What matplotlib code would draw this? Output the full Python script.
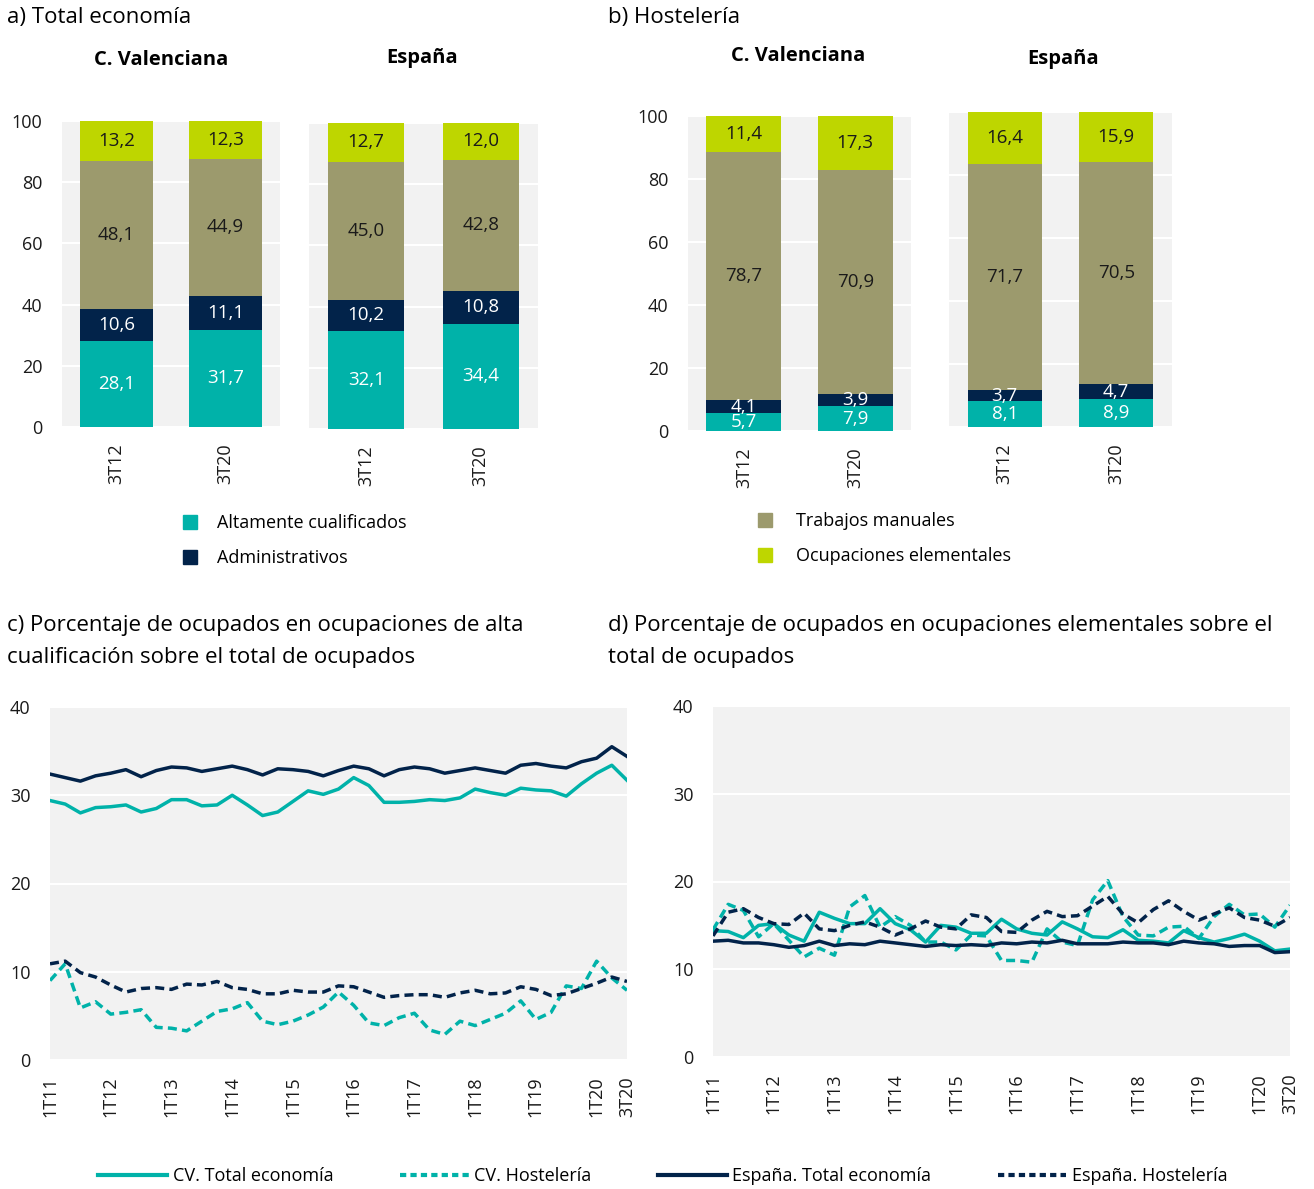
import matplotlib
matplotlib.use("Agg")
import matplotlib.pyplot as plt
from matplotlib.patches import Patch
from matplotlib.lines import Line2D
import numpy as np

plt.rcParams['font.family'] = ['Open Sans', 'DejaVu Sans']

W, H = 1314, 1189

TEAL = '#00B2A9'
NAVY = '#02234A'
OLIVE = '#9C9A6D'
LIME = '#BED600'
BG = '#F2F2F2'

# --- bar data (stacked, bottom to top) ---
categories = ['Altamente cualificados', 'Administrativos', 'Trabajos manuales', 'Ocupaciones elementales']
bar_periods = ['3T12', '3T20']

a_cv = {'Altamente cualificados': [28.1, 31.7], 'Administrativos': [10.6, 11.1],
        'Trabajos manuales': [48.1, 44.9], 'Ocupaciones elementales': [13.2, 12.3]}
a_es = {'Altamente cualificados': [32.1, 34.4], 'Administrativos': [10.2, 10.8],
        'Trabajos manuales': [45.0, 42.8], 'Ocupaciones elementales': [12.7, 12.0]}
b_cv = {'Altamente cualificados': [5.7, 7.9], 'Administrativos': [4.1, 3.9],
        'Trabajos manuales': [78.7, 70.9], 'Ocupaciones elementales': [11.4, 17.3]}
b_es = {'Altamente cualificados': [8.1, 8.9], 'Administrativos': [3.7, 4.7],
        'Trabajos manuales': [71.7, 70.5], 'Ocupaciones elementales': [16.4, 15.9]}

# --- line data, 1T11 .. 3T20 ---
n_q = 39
tick_pos = [0, 4, 8, 12, 16, 20, 24, 28, 32, 36, 38]
tick_labels = ['1T11', '1T12', '1T13', '1T14', '1T15', '1T16', '1T17', '1T18', '1T19', '1T20', '3T20']

c_cv_total = [29.4, 29.0, 28.0, 28.6, 28.7, 28.9, 28.1, 28.5, 29.5, 29.5, 28.8, 28.9, 30.0, 28.9, 27.7, 28.1,
              29.3, 30.5, 30.1, 30.7, 32.0, 31.1, 29.2, 29.2, 29.3, 29.5, 29.4, 29.7, 30.7, 30.3, 30.0, 30.8,
              30.6, 30.5, 29.9, 31.3, 32.5, 33.4, 31.7]
c_cv_host = [9.0, 10.9, 5.9, 6.6, 5.2, 5.4, 5.7, 3.7, 3.6, 3.3, 4.4, 5.5, 5.8, 6.5, 4.4, 4.0,
             4.4, 5.1, 6.0, 7.7, 6.2, 4.2, 3.9, 4.8, 5.3, 3.4, 2.9, 4.4, 3.9, 4.6, 5.3, 6.7,
             4.6, 5.4, 8.4, 8.1, 11.2, 9.3, 7.9]
c_es_total = [32.4, 32.0, 31.6, 32.2, 32.5, 32.9, 32.1, 32.8, 33.2, 33.1, 32.7, 33.0, 33.3, 32.9, 32.3, 33.0,
              32.9, 32.7, 32.2, 32.8, 33.3, 33.0, 32.2, 32.9, 33.2, 33.0, 32.5, 32.8, 33.1, 32.8, 32.5, 33.4,
              33.6, 33.3, 33.1, 33.8, 34.2, 35.5, 34.4]
c_es_host = [10.9, 11.2, 9.9, 9.4, 8.5, 7.7, 8.1, 8.2, 8.0, 8.6, 8.5, 8.9, 8.2, 8.0, 7.5, 7.5,
             7.9, 7.7, 7.7, 8.4, 8.3, 7.7, 7.1, 7.3, 7.4, 7.4, 7.1, 7.6, 7.9, 7.5, 7.6, 8.3,
             8.0, 7.3, 7.5, 8.1, 8.7, 9.4, 8.9]

d_cv_total = [14.4, 14.3, 13.6, 15.0, 15.2, 13.9, 13.2, 16.5, 15.8, 15.2, 15.2, 16.9, 15.2, 14.5, 13.1, 15.0,
              14.8, 14.1, 14.1, 15.7, 14.6, 14.1, 13.9, 15.4, 14.6, 13.7, 13.6, 14.5, 13.3, 13.2, 13.0, 14.4,
              13.6, 13.1, 13.5, 14.0, 13.2, 12.1, 12.3]
d_cv_host = [14.5, 17.4, 16.7, 13.7, 15.2, 13.3, 11.4, 12.4, 11.6, 17.1, 18.4, 14.8, 16.0, 15.0, 13.1, 13.1,
             12.2, 13.9, 13.8, 11.0, 11.0, 10.8, 14.6, 13.1, 12.7, 17.9, 20.1, 16.0, 13.9, 13.8, 14.8, 14.9,
             13.5, 16.0, 17.4, 16.2, 16.3, 14.8, 17.3]
d_es_total = [13.2, 13.3, 13.0, 13.0, 12.8, 12.5, 12.7, 13.2, 12.7, 12.9, 12.8, 13.2, 13.0, 12.8, 12.6, 12.8,
              12.7, 12.8, 12.7, 13.0, 12.9, 13.1, 13.0, 13.3, 12.9, 12.9, 12.9, 13.1, 13.0, 13.0, 12.8, 13.2,
              13.0, 12.9, 12.6, 12.7, 12.7, 11.9, 12.0]
d_es_host = [13.8, 16.5, 16.9, 15.9, 15.2, 15.1, 16.4, 14.6, 14.4, 15.0, 15.4, 14.8, 13.9, 14.6, 15.5, 14.8,
             14.6, 16.2, 15.9, 14.3, 14.2, 15.6, 16.6, 16.0, 16.1, 17.2, 18.3, 16.3, 15.3, 16.8, 17.8, 16.6,
             15.6, 16.3, 17.0, 15.9, 15.6, 14.9, 15.9]

colors = {'Altamente cualificados': TEAL, 'Administrativos': NAVY,
          'Trabajos manuales': OLIVE, 'Ocupaciones elementales': LIME}
text_col = {'Altamente cualificados': 'white', 'Administrativos': 'white',
            'Trabajos manuales': '#1a1a1a', 'Ocupaciones elementales': '#1a1a1a'}

fig = plt.figure(figsize=(W / 100, H / 100), dpi=100)


def px_axes(x0, y0, x1, y1):
    return fig.add_axes([x0 / W, 1 - y1 / H, (x1 - x0) / W, (y1 - y0) / H])


def style_axes(ax, show_y):
    ax.set_facecolor(BG)
    for s in ax.spines.values():
        s.set_visible(False)
    ax.set_axisbelow(True)
    ax.grid(axis='y', color='white', linewidth=1.5)
    ax.tick_params(length=0, labelsize=13, colors='#1a1a1a')
    if not show_y:
        ax.tick_params(labelleft=False)


def stacked(ax, data, width, show_y):
    x = np.arange(len(bar_periods))
    bottom = np.zeros(len(bar_periods))
    for cat in categories:
        vals = np.array(data[cat])
        ax.bar(x, vals, width, bottom=bottom, color=colors[cat], zorder=2)
        for xi, b, v in zip(x, bottom, vals):
            ax.text(xi, b + v / 2, f"{v:.1f}".replace('.', ','), ha='center', va='center',
                    fontsize=13.5, color=text_col[cat], zorder=3)
        bottom += vals
    ax.set_xlim(-0.5, 1.5)
    ax.set_ylim(0, 100)
    ax.set_yticks(range(0, 101, 20))
    ax.set_xticks(x)
    ax.set_xticklabels(bar_periods, rotation=90)
    style_axes(ax, show_y)
    ax.tick_params(axis='x', pad=12)
    ax.tick_params(axis='y', pad=14)


ax = px_axes(62, 121, 280, 427)
stacked(ax, a_cv, 0.67, True)
ax = px_axes(309, 123, 538, 429)
stacked(ax, a_es, 0.66, False)
ax = px_axes(688, 116, 911, 431)
stacked(ax, b_cv, 0.67, True)
ax = px_axes(949, 112, 1172, 427)
stacked(ax, b_es, 0.66, False)

fig.text(7 / W, 1 - 17 / H, 'a) Total economía', fontsize=16, va='center', ha='left')
fig.text(608 / W, 1 - 17 / H, 'b) Hostelería', fontsize=16, va='center', ha='left')
for xc, yc, t in [(161, 60, 'C. Valenciana'), (422, 58, 'España'),
                  (798, 56, 'C. Valenciana'), (1063, 59, 'España')]:
    fig.text(xc / W, 1 - yc / H, t, fontsize=14.5, fontweight='bold', ha='center', va='center')

leg_kw = dict(frameon=False, fontsize=13, handlelength=0.8, handleheight=0.8,
              labelspacing=0.95, borderpad=0, borderaxespad=0, loc='upper left')
fig.legend([Patch(color=TEAL), Patch(color=NAVY)], categories[:2],
           bbox_to_anchor=(183 / W, 1 - 514 / H), handletextpad=1.1, **leg_kw)
fig.legend([Patch(color=OLIVE), Patch(color=LIME)], categories[2:],
           bbox_to_anchor=(758 / W, 1 - 512 / H), handletextpad=1.3, **leg_kw)

# --- line panels ---
x = np.arange(n_q)
dash = (2.6, 1.5)


def line_panel(ax, cv_total, cv_host, es_total, es_host):
    ax.plot(x, cv_total, color=TEAL, lw=2.5, zorder=3)
    ax.plot(x, cv_host, color=TEAL, lw=2.5, dashes=dash, zorder=3)
    ax.plot(x, es_total, color=NAVY, lw=2.5, zorder=3)
    ax.plot(x, es_host, color=NAVY, lw=2.5, dashes=dash, zorder=3)
    ax.set_xlim(0, n_q - 1)
    ax.set_ylim(0, 40)
    ax.set_yticks(range(0, 41, 10))
    ax.set_xticks(tick_pos)
    ax.set_xticklabels(tick_labels, rotation=90)
    style_axes(ax, True)
    ax.tick_params(axis='x', pad=12)
    ax.tick_params(axis='y', pad=14)


ax = px_axes(50, 707, 627, 1060)
line_panel(ax, c_cv_total, c_cv_host, c_es_total, c_es_host)
ax = px_axes(713, 706, 1290, 1057)
line_panel(ax, d_cv_total, d_cv_host, d_es_total, d_es_host)

fig.text(7 / W, 1 - 625 / H, 'c) Porcentaje de ocupados en ocupaciones de alta', fontsize=16, va='center')
fig.text(7 / W, 1 - 657 / H, 'cualificación sobre el total de ocupados', fontsize=16, va='center')
fig.text(608 / W, 1 - 625 / H, 'd) Porcentaje de ocupados en ocupaciones elementales sobre el',
         fontsize=16, va='center')
fig.text(608 / W, 1 - 657 / H, 'total de ocupados', fontsize=16, va='center')

line_handles = [Line2D([], [], color=TEAL, lw=3),
                Line2D([], [], color=TEAL, lw=3, dashes=(1.5, 1.0)),
                Line2D([], [], color=NAVY, lw=3),
                Line2D([], [], color=NAVY, lw=3, dashes=(1.5, 1.0))]
fig.legend(line_handles, ['CV. Total economía', 'CV. Hostelería', 'España. Total economía', 'España. Hostelería'],
           loc='center', bbox_to_anchor=(663 / W, 1 - 1176 / H), ncol=4, frameon=False, fontsize=13,
           handlelength=3.8, handletextpad=0.3, columnspacing=3.7, borderpad=0)

fig.savefig('out.png', dpi=100)
